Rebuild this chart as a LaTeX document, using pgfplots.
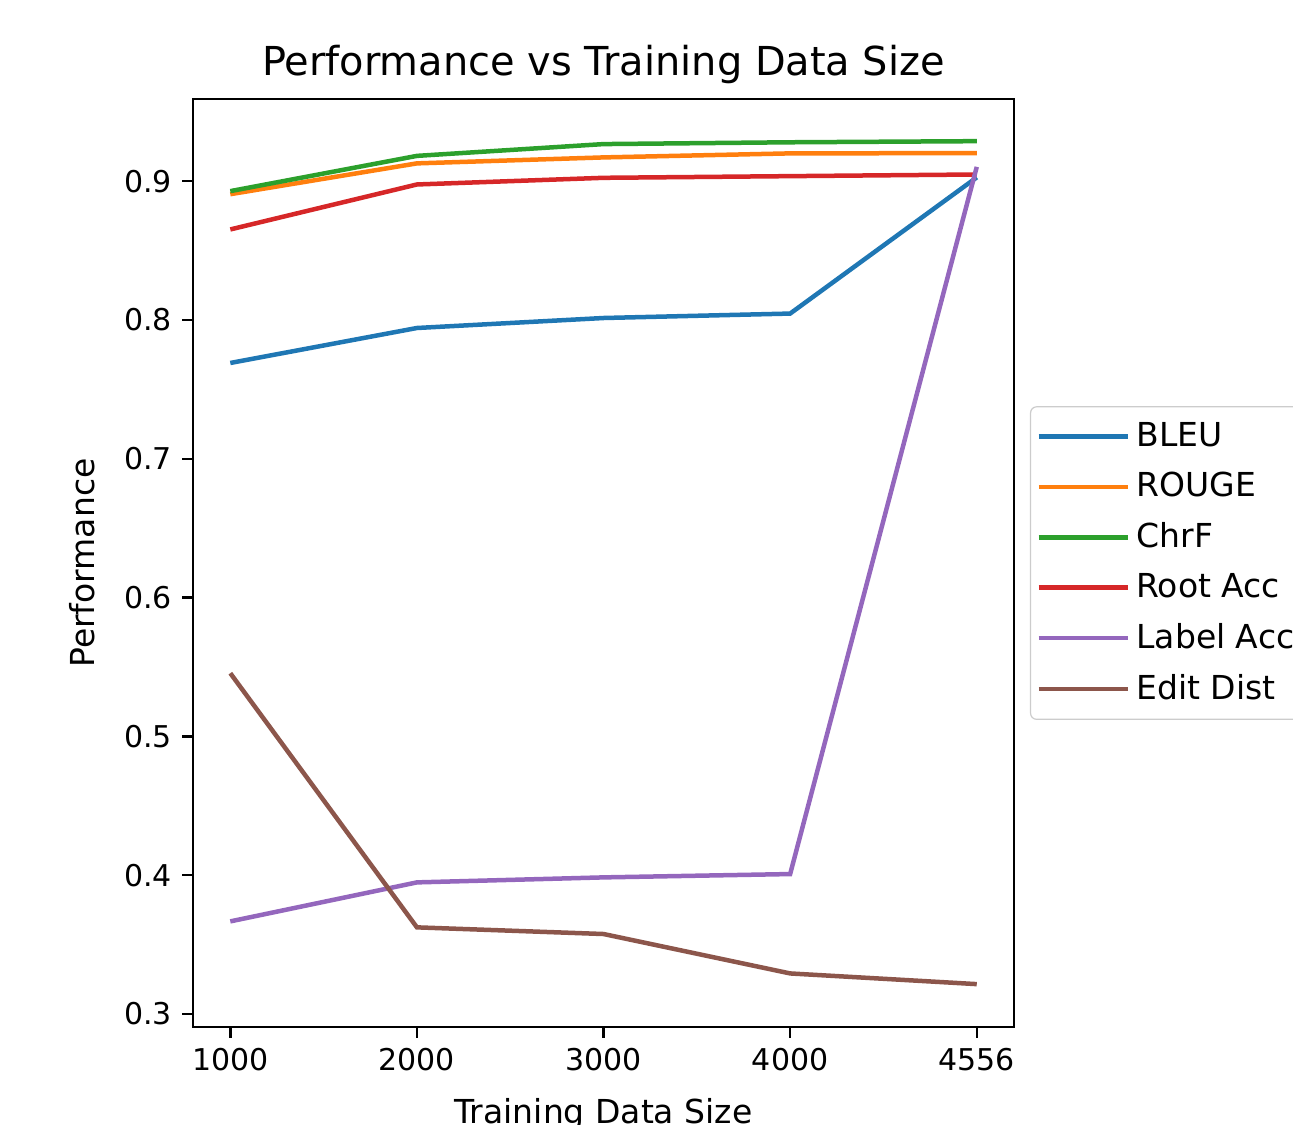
\documentclass[border=0pt]{standalone}
\usepackage{fontspec}
\setmainfont{DejaVu Sans}
\usepackage{pgfplots}
\pgfplotsset{compat=1.18}
\definecolor{c0}{HTML}{1F77B4}
\definecolor{c1}{HTML}{FF7F0E}
\definecolor{c2}{HTML}{2CA02C}
\definecolor{c3}{HTML}{D62728}
\definecolor{c4}{HTML}{9467BD}
\definecolor{c5}{HTML}{8C564B}
\begin{document}
\begin{tikzpicture}[x=1pt,y=1pt]
\begin{axis}[
  at={(64.33pt,32.33pt)}, anchor=south west,
  scale only axis, width=273.7pt, height=309.3pt,
  xmin=-0.2, xmax=4.2, ymin=0.2906, ymax=0.9591,
  xtick={0,1,2,3,4}, xticklabels={1000,2000,3000,4000,4556},
  ytick={0.3,0.4,0.5,0.6,0.7,0.8,0.9},
  yticklabel style={/pgf/number format/fixed,/pgf/number format/precision=1,/pgf/number format/fixed zerofill},
  /pgf/number format/assume math mode=true,
  ticklabel style={font=\fontsize{10}{12}\selectfont},
  tick align=outside, major tick length=3.5pt,
  tick style={line width=0.8pt, black},
  xtick pos=bottom, ytick pos=left,
  axis line style={line width=0.8pt},
  title={Performance vs Training Data Size},
  title style={font=\fontsize{13.3}{16}\selectfont, yshift=-4.5pt},
  xlabel={Training Data Size}, ylabel={Performance},
  label style={font=\fontsize{11}{13}\selectfont},
  xlabel style={yshift=-2.5pt},
  ylabel style={yshift=3pt},
  legend style={at={(1,0.5)}, anchor=west, xshift=5.3pt, draw=black!20, rounded corners=2pt,
    font=\fontsize{11}{13}\selectfont, row sep=3.1pt, inner xsep=2pt, inner ysep=3.2pt},
  legend cell align=left,
  legend image code/.code={\draw[#1] (0pt,0pt) -- (24pt,0pt); \path (0pt,0pt) -- (29.8pt,0pt);},
  every axis plot/.append style={line width=1.5pt},
]
\addplot[c0] coordinates {(0,0.7690) (1,0.7942) (2,0.8014) (3,0.8046) (4,0.9027)};
\addlegendentry{BLEU}
\addplot[c1] coordinates {(0,0.8906) (1,0.9128) (2,0.9171) (3,0.9200) (4,0.9202)};
\addlegendentry{ROUGE}
\addplot[c2] coordinates {(0,0.8928) (1,0.9182) (2,0.9267) (3,0.9280) (4,0.9288)};
\addlegendentry{ChrF}
\addplot[c3] coordinates {(0,0.8652) (1,0.8976) (2,0.9024) (3,0.9036) (4,0.9048)};
\addlegendentry{Root Acc}
\addplot[c4] coordinates {(0,0.3667) (1,0.3948) (2,0.3984) (3,0.4008) (4,0.9103)};
\addlegendentry{Label Acc}
\addplot[c5] coordinates {(0,0.5455) (1,0.3624) (2,0.3576) (3,0.3292) (4,0.3215)};
\addlegendentry{Edit Dist}
\end{axis}
\pgfresetboundingbox
\useasboundingbox (0,0) rectangle (431pt,374.67pt);
\end{tikzpicture}
\end{document}
